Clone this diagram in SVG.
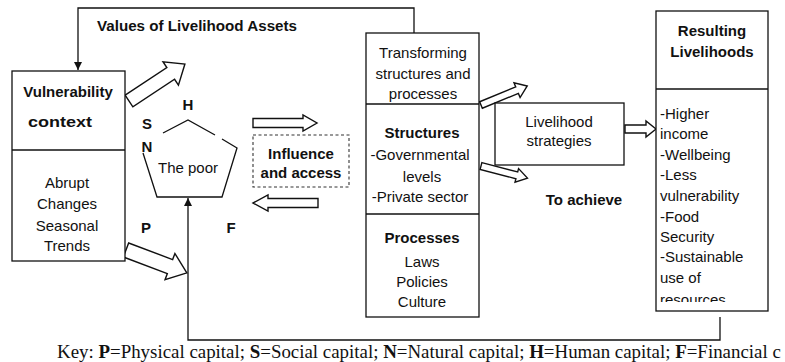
<svg xmlns="http://www.w3.org/2000/svg" width="785" height="362" viewBox="0 0 785 362">
<defs>
<style>
.box{fill:#fff;stroke:#111;stroke-width:1.3}
.ln{fill:none;stroke:#111;stroke-width:1.3}
.ha{fill:#fff;stroke:#111;stroke-width:1.4;stroke-linejoin:miter}
.t{font-family:"Liberation Sans",Arial,sans-serif;font-size:15px;fill:#111}
.b{font-weight:bold}
.c{text-anchor:middle}
.k{font-family:"Liberation Serif","Times New Roman",serif;font-size:18.9px;fill:#111}
</style>
<marker id="ah" viewBox="0 0 10 10" refX="10" refY="5" markerWidth="8" markerHeight="8" markerUnits="userSpaceOnUse" orient="auto">
<path d="M0,0 L10,5 L0,10 z" fill="#111"/>
</marker>
<clipPath id="resclip"><rect x="656" y="89" width="112" height="213"/></clipPath>
</defs>
<rect width="785" height="362" fill="#fff"/>

<g id="connectors">
<path class="ln" d="M414,33 V8 H78 V70" marker-end="url(#ah)"/>
<path class="ln" d="M720,317 V340 H188 V198" marker-end="url(#ah)"/>
<polygon class="ha" transform="translate(129,101) rotate(-33.45)" points="0,-7 50,-7 50,-14 67,0 50,14 50,7 0,7"/>
<polygon class="ha" transform="translate(253,123)" points="0,-4.5 50,-4.5 50,-8 64,0 50,8 50,4.5 0,4.5"/>
<polygon class="ha" transform="translate(318,203) rotate(180)" points="0,-4.5 50,-4.5 50,-8 65,0 50,8 50,4.5 0,4.5"/>
<polygon class="ha" transform="translate(481,105) rotate(-22.4)" points="0,-3.5 39,-3.5 39,-8 50,0 39,8 39,3.5 0,3.5"/>
<polygon class="ha" transform="translate(481,166) rotate(14.6)" points="0,-3.5 37,-3.5 37,-7 48,0 37,7 37,3.5 0,3.5"/>
<polygon class="ha" transform="translate(625,129)" points="0,-4 21,-4 21,-8 31,0 21,8 21,4 0,4"/>
<polygon class="ha" transform="translate(126,250) rotate(20.66)" points="0,-7.5 47,-7.5 47,-14 65,0 47,14 47,7.5 0,7.5"/>
<text class="t b" x="97" y="31" textLength="200" lengthAdjust="spacingAndGlyphs">Values of Livelihood Assets</text>
<text class="t b c" x="584" y="205">To achieve</text>
</g>

<g id="vulnerability">
<rect class="box" x="12" y="71" width="113" height="190"/>
<line class="ln" x1="12" y1="150" x2="125" y2="150"/>
<text class="t b c" x="68" y="97">Vulnerability</text>
<text class="t b" x="28" y="127" textLength="64" lengthAdjust="spacingAndGlyphs">context</text>
<text class="t c" x="67" y="188">Abrupt</text>
<text class="t c" x="67" y="209">Changes</text>
<text class="t c" x="67" y="231">Seasonal</text>
<text class="t c" x="67" y="251">Trends</text>
</g>

<g id="poor">
<path class="ln" d="M163,133 L188,120 L215,135 M222,139 L237,148 L222,197 L157,197 L143,153"/>
<text class="t c" x="188" y="173">The poor</text>
<text class="t b c" x="188" y="110">H</text>
<text class="t b c" x="147" y="129">S</text>
<text class="t b c" x="147" y="152">N</text>
<text class="t b c" x="146" y="233">P</text>
<text class="t b c" x="231" y="233">F</text>
</g>

<g id="influence">
<rect x="253" y="135" width="96" height="52" fill="none" stroke="#333" stroke-width="1.1" stroke-dasharray="3,2.5"/>
<text class="t b c" x="301" y="159">Influence</text>
<text class="t b c" x="301" y="178">and access</text>
</g>

<g id="transforming">
<rect class="box" x="366" y="33" width="113" height="284"/>
<line class="ln" x1="366" y1="104" x2="479" y2="104"/>
<line class="ln" x1="366" y1="214" x2="479" y2="214"/>
<text class="t c" x="423" y="58">Transforming</text>
<text class="t c" x="423" y="79">structures and</text>
<text class="t c" x="423" y="99">processes</text>
<text class="t b c" x="422" y="138">Structures</text>
<text class="t c" x="420" y="160">-Governmental</text>
<text class="t c" x="422" y="182">levels</text>
<text class="t c" x="420" y="202">-Private sector</text>
<text class="t b c" x="422" y="243">Processes</text>
<text class="t c" x="422" y="267">Laws</text>
<text class="t c" x="422" y="287">Policies</text>
<text class="t c" x="422" y="307">Culture</text>
</g>

<g id="strategies">
<rect class="box" x="495" y="103" width="129" height="62"/>
<text class="t c" x="559" y="127">Livelihood</text>
<text class="t c" x="559" y="146">strategies</text>
</g>

<g id="results">
<rect class="box" x="656" y="11" width="112" height="300"/>
<line class="ln" x1="656" y1="89" x2="768" y2="89"/>
<text class="t b c" x="712" y="36">Resulting</text>
<text class="t b c" x="712" y="57">Livelihoods</text>
<g clip-path="url(#resclip)">
<text class="t" x="660" y="119">-Higher</text>
<text class="t" x="660" y="139">income</text>
<text class="t" x="660" y="160">-Wellbeing</text>
<text class="t" x="660" y="180">-Less</text>
<text class="t" x="660" y="201">vulnerability</text>
<text class="t" x="660" y="222">-Food</text>
<text class="t" x="660" y="242">Security</text>
<text class="t" x="660" y="262">-Sustainable</text>
<text class="t" x="660" y="283">use of</text>
<text class="t" x="660" y="305">resources</text>
</g>
</g>

<text class="k" x="57" y="358">Key: <tspan font-weight="bold">P</tspan>=Physical capital; <tspan font-weight="bold">S</tspan>=Social capital; <tspan font-weight="bold">N</tspan>=Natural capital; <tspan font-weight="bold">H</tspan>=Human capital; <tspan font-weight="bold">F</tspan>=Financial c</text>
</svg>
